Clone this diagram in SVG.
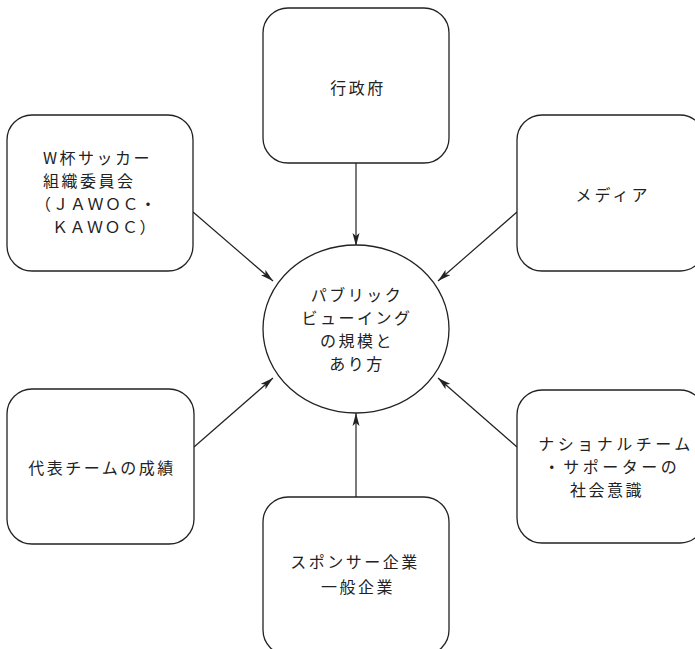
<svg xmlns="http://www.w3.org/2000/svg" width="695" height="649" viewBox="0 0 695 649">
<defs>
<marker id="ah" markerUnits="userSpaceOnUse" markerWidth="14" markerHeight="8" refX="13" refY="4" orient="auto">
<path d="M0,0.5 L13,4 L0,7.5 L3,4 Z" fill="#222"/>
</marker>
<style>
.box{fill:#fff;stroke:#222;stroke-width:1.3}
.t{font-family:"Noto Sans CJK JP","Noto Sans CJK SC",sans-serif;font-size:16px;fill:#222;letter-spacing:2.5px}
.c{text-anchor:middle}
.ln{stroke:#222;stroke-width:1.2;fill:none;marker-end:url(#ah)}
</style>
</defs>
<rect width="695" height="649" fill="#fff"/>
<g id="connectors">
<line class="ln" x1="356" y1="163" x2="356" y2="246"/>
<line class="ln" x1="193" y1="212" x2="273" y2="281"/>
<line class="ln" x1="517" y1="212" x2="438" y2="281"/>
<line class="ln" x1="194" y1="447" x2="273" y2="378"/>
<line class="ln" x1="517" y1="447" x2="438" y2="378"/>
<line class="ln" x1="356" y1="497" x2="356" y2="413"/>
</g>
<g id="center">
<ellipse cx="356" cy="329" rx="93" ry="84" class="box"/>
<text class="t c" x="357" y="301">パブリック</text>
<text class="t c" x="357" y="324">ビューイング</text>
<text class="t c" x="357" y="347">の規模と</text>
<text class="t c" x="357" y="370">あり方</text>
</g>
<g id="gov">
<rect x="263" y="8" width="186" height="155" rx="25" class="box"/>
<text class="t c" x="358" y="94">行政府</text>
</g>
<g id="wcup">
<rect x="7" y="115" width="186" height="156" rx="25" class="box"/>
<text class="t" x="43" y="164">W杯サッカー</text>
<text class="t" x="43" y="187">組織委員会</text>
<text class="t" x="35" y="210" style="letter-spacing:1.5px">（ＪＡＷＯＣ・</text>
<text class="t" x="52" y="233" style="letter-spacing:1.5px">ＫＡＷＯＣ）</text>
</g>
<g id="media">
<rect x="517" y="115" width="188" height="156" rx="25" class="box"/>
<text class="t c" x="613" y="201" style="letter-spacing:3px">メディア</text>
</g>
<g id="team">
<rect x="7" y="389" width="187" height="155" rx="25" class="box"/>
<text class="t c" x="102" y="474">代表チームの成績</text>
</g>
<g id="national">
<rect x="517" y="390" width="188" height="153" rx="25" class="box"/>
<text class="t c" x="616" y="450" style="letter-spacing:3.5px">ナショナルチーム</text>
<text class="t c" x="612" y="473" style="letter-spacing:3.5px">・サポーターの</text>
<text class="t c" x="607" y="496">社会意識</text>
</g>
<g id="sponsor">
<rect x="263" y="497" width="186" height="158" rx="25" class="box"/>
<text class="t c" x="355" y="568">スポンサー企業</text>
<text class="t c" x="358" y="593">一般企業</text>
</g>
</svg>
